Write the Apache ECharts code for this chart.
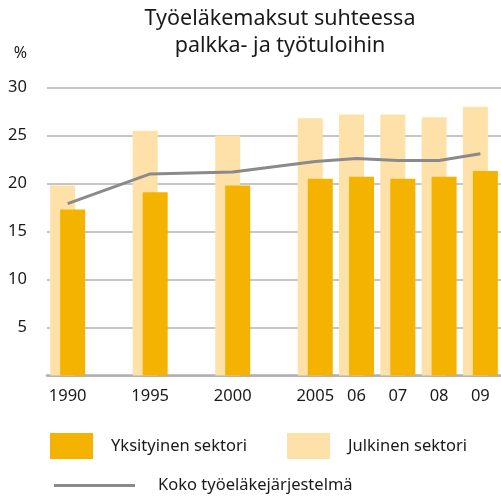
<!DOCTYPE html>
<html>
<head>
<meta charset="utf-8">
<script src="https://cdn.jsdelivr.net/npm/echarts@6/dist/echarts.min.js"></script>
<style>
  html, body { margin: 0; padding: 0; background: #fff; }
  #main { width: 501px; height: 499px; }
</style>
</head>
<body>
<div id="main"></div>
<script>
// categories (blank slots keep the 5-year gaps wider)
var categories = ['1990', '', '1995', '', '2000', '', '2005', '06', '07', '08', '09'];
// Julkinen sektori
var publicSector = [19.8, null, 25.5, null, 25.0, null, 26.8, 27.2, 27.2, 26.9, 28.0];
// Yksityinen sektori
var privateSector = [17.3, null, 19.1, null, 19.8, null, 20.5, 20.7, 20.5, 20.7, 21.3];
// Koko työeläkejärjestelmä
var wholeSystem = [17.9, null, 21.0, null, 21.2, null, 22.3, 22.6, 22.4, 22.4, 23.1];
var yTicks = [0, 5, 10, 15, 20, 25, 30];

var FONT = 'Noto Sans';
var chart = echarts.init(document.getElementById('main'));

chart.setOption({
    animation: false,
    textStyle: { fontFamily: FONT },
    title: {
        text: 'Työeläkemaksut suhteessa\npalkka- ja työtuloihin',
        left: 280,
        top: 5,
        padding: 0,
        textAlign: 'center',
        textStyle: { fontFamily: FONT, fontSize: 21.5, fontWeight: 'normal', color: '#1a1a1a', lineHeight: 27 }
    },
    legend: [{
        data: ['Yksityinen sektori'],
        left: 50, top: 433, padding: 0,
        itemWidth: 43, itemHeight: 26, icon: 'rect',
        textStyle: { fontSize: 16.5, color: '#1a1a1a', padding: [0, 0, 0, 13] }
    }, {
        data: ['Julkinen sektori'],
        left: 287, top: 433, padding: 0,
        itemWidth: 43, itemHeight: 26, icon: 'rect',
        textStyle: { fontSize: 16.5, color: '#1a1a1a', padding: [0, 0, 0, 13] }
    }, {
        data: ['Koko työeläkejärjestelmä'],
        left: 54, top: 477, padding: 0,
        itemWidth: 81, itemHeight: 3, icon: 'rect',
        textStyle: { fontSize: 16.5, color: '#1a1a1a', padding: [0, 0, 0, 18] }
    }],
    grid: { left: 47, right: -5, top: 87.5, bottom: 123.5 },
    xAxis: {
        type: 'category',
        data: categories,
        boundaryGap: true,
        axisTick: { show: false },
        axisLine: { lineStyle: { color: '#b0b0b0', width: 2.5 } },
        axisLabel: { fontSize: 16.5, color: '#1a1a1a', margin: 12, interval: 0 }
    },
    yAxis: {
        type: 'value',
        min: yTicks[0],
        max: yTicks[yTicks.length - 1],
        interval: 5,
        name: '%',
        nameLocation: 'end',
        nameGap: 26,
        nameTextStyle: { fontSize: 16, color: '#1a1a1a', align: 'right', padding: [0, 20, 0, 0] },
        axisLine: { show: false },
        axisTick: { show: false },
        axisLabel: {
            fontSize: 16.5, color: '#1a1a1a', margin: 20,
            formatter: function (v) { return v === 0 ? '' : v; }
        },
        splitLine: { lineStyle: { color: '#b3b3b3', width: 1.5 } }
    },
    series: [{
        name: 'Julkinen sektori',
        type: 'bar',
        data: publicSector,
        barWidth: 25,
        barGap: '-60%',
        itemStyle: { color: '#fde1a9' }
    }, {
        name: 'Yksityinen sektori',
        type: 'bar',
        data: privateSector,
        barWidth: 25,
        itemStyle: { color: '#f5b301' }
    }, {
        name: 'Koko työeläkejärjestelmä',
        type: 'line',
        data: wholeSystem,
        connectNulls: true,
        symbol: 'none',
        lineStyle: { color: '#8a8a8a', width: 3 },
        itemStyle: { color: '#8a8a8a' }
    }]
});
</script>
</body>
</html>
